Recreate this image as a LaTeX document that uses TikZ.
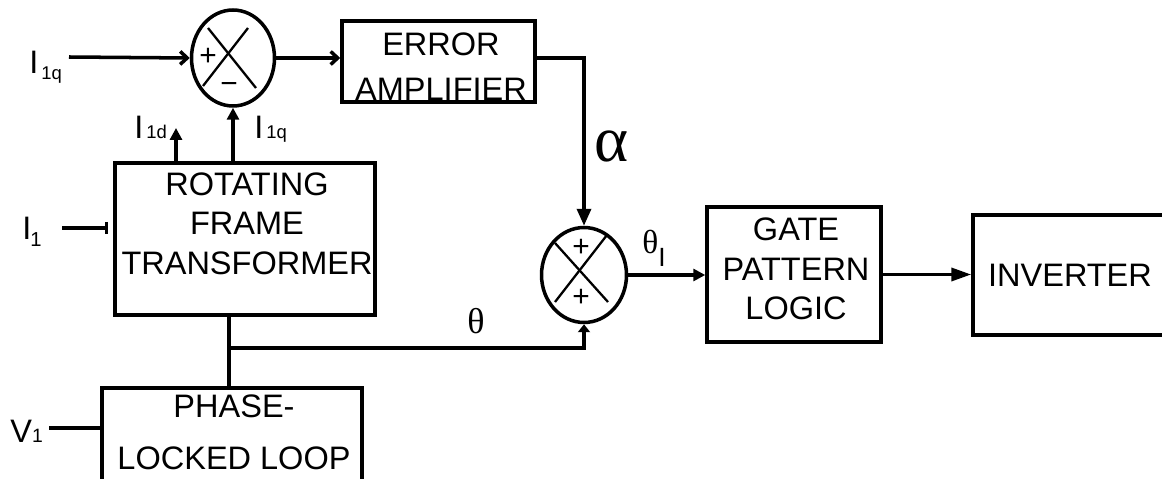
\documentclass[tikz,border=0pt]{standalone}
\usepackage{fontspec}
\setmainfont{Liberation Sans}
\newfontfamily\greekfont{Liberation Serif}
\usetikzlibrary{arrows.meta,shapes.geometric}
\newcommand{\subsz}[1]{\fontsize{#1}{#1}\selectfont}
\tikzset{
  block/.style={draw,rectangle,inner sep=0pt,line width=2pt},
  summer/.style={draw,ellipse,inner sep=0pt,line width=2pt},
  boxtext/.style={align=center,inner sep=0pt},
  sig/.style={font=\fontsize{18.5}{22}\selectfont,inner sep=0pt,anchor=base west},
  greek/.style={font=\greekfont,inner sep=0pt,anchor=base west},
  pm/.style={font=\fontsize{17}{17}\selectfont,inner sep=0pt},
  xline/.style={line width=1.3pt},
  wire/.style={line width=2pt},
  arr/.style={-{Triangle[length=0.24cm,width=0.24cm]}},
  barb/.style={-{Straight Barb[length=0.14cm,width=0.26cm]}},
}
\begin{document}
\begin{tikzpicture}[x=0.02cm,y=-0.02cm]
  \useasboundingbox (0,0) rectangle (1162,479);

  \node[summer,minimum width=1.66cm,minimum height=1.92cm] (sum1) at (233,58) {};
  \node[summer,minimum width=1.7cm,minimum height=1.9cm] (sum2) at (584,275) {};
  \node[block,minimum width=3.86cm,minimum height=1.62cm] (ea) at (438.5,61.5) {};
  \node[block,minimum width=5.2cm,minimum height=3.04cm] (rft) at (245,239) {};
  \node[block,minimum width=3.48cm,minimum height=2.7cm] (gpl) at (794,274.5) {};
  \node[block,minimum width=4.54cm,minimum height=2.4cm] (inv) at (1086.5,275) {};
  \node[block,minimum width=5.2cm,minimum height=2.44cm] (pll) at (232,449) {};

  \node[boxtext,font=\fontsize{18.5}{25.6}\selectfont] (eatxt) at (441,67) {ERROR\\AMPLIFIER};
  \node[boxtext,font=\fontsize{18.5}{22.5}\selectfont] (rfttxt) at (247,223.5) {ROTATING\\FRAME\\TRANSFORMER};
  \node[boxtext,font=\fontsize{18.5}{22.5}\selectfont] (gpltxt) at (796,269) {GATE\\PATTERN\\LOGIC};
  \node[boxtext,font=\fontsize{18.5}{22.5}\selectfont] (invtxt) at (1070,275) {INVERTER};
  \node[boxtext,font=\fontsize{18.5}{29.6}\selectfont] (plltxt) at (234,432.5) {PHASE-\\LOCKED LOOP};

  \draw[xline] ([shift={(-25,-30)}]sum1.center) -- ([shift={(23,30)}]sum1.center);
  \draw[xline] ([shift={(15,-30)}]sum1.center) -- ([shift={(-30,28)}]sum1.center);
  \node[pm] (plus1) at ([shift={(-25,-1)}]sum1.center) {+};
  \node[pm] (minus1) at ([shift={(-4,30)}]sum1.center) {−};
  \draw[xline] ([shift={(-29,-32)}]sum2.center) -- ([shift={(24,27)}]sum2.center);
  \draw[xline] ([shift={(23,-40)}]sum2.center) -- ([shift={(-29,27)}]sum2.center);
  \node[pm] (plus2) at ([shift={(-3,-27)}]sum2.center) {+};
  \node[pm] (plus3) at ([shift={(-3,23)}]sum2.center) {+};

  \node[sig] (li1q) at (29,74) {I\hspace{0.06cm}\raisebox{-0.12cm}{\subsz{10.5}1q}};
  \node[sig] (li1d) at (134,139) {I\hspace{0.06cm}{\subsz{10.5}1d}};
  \node[sig] (li1qb) at (254,139) {I\hspace{0.06cm}{\subsz{10.5}1q}};
  \node[sig] (li1) at (22,240) {I\hspace{-0.02cm}\raisebox{-0.14cm}{\subsz{11.5}1}};
  \node[sig] (lv1) at (10,442) {V{\subsz{11}1}};
  \node[greek,font=\greekfont\fontsize{37}{37}\selectfont] (lalpha) at (594,162) {α};
  \node[greek,font=\greekfont\fontsize{20.5}{20.5}\selectfont] (ltheta) at (467,334) {θ};
  \node[greek,font=\greekfont\fontsize{19}{19}\selectfont] (lthetai) at (642,254)
    {θ\raisebox{-0.26cm}{\normalfont\subsz{15}I}};

  \coordinate (in1q) at (69,57);
  \coordinate (in1) at (62,228);
  \coordinate (inv1) at (49,428);
  \coordinate (i1d) at (176,128);
  \coordinate (jn) at (229,348);

  \draw[wire,barb] (in1q) -- (sum1.west);
  \draw[wire,barb] (sum1.east) -- (sum1.east -| ea.west);
  \draw[wire,-{Triangle[length=0.34cm,width=0.28cm]}] (ea.east |- sum1.east) -| (sum2.north);
  \draw[wire,arr] (sum1.south |- rft.north) -- (sum1.south);
  \draw[wire,arr] (i1d |- rft.north) -- (i1d);
  \draw[wire,-{Bar[width=0.24cm]},shorten >=0.1cm] (in1) -- (in1 -| rft.west);
  \draw[wire] (inv1) -- (inv1 -| pll.west);
  \draw[wire] (jn |- rft.south) -- (jn |- pll.north);
  \draw[wire,-{Triangle[length=0.16cm,width=0.24cm]}] (jn) -| (sum2.south);
  \draw[wire,arr] (sum2.east) -- (sum2.east -| gpl.west);
  \draw[wire,-{Triangle[length=0.4cm,width=0.26cm]}] (gpl.east) -- (gpl.east -| inv.west);
\end{tikzpicture}
\end{document}
